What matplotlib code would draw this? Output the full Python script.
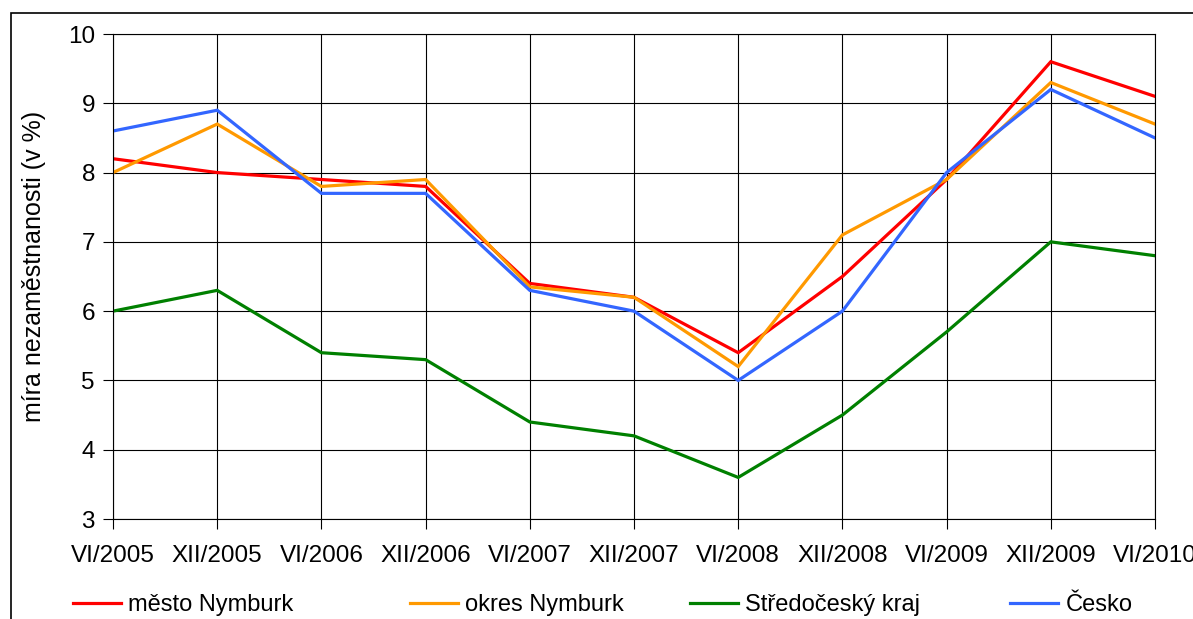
import matplotlib
matplotlib.use("Agg")
import matplotlib.pyplot as plt
from matplotlib.patches import Rectangle

plt.rcParams['font.family'] = ['Liberation Sans', 'DejaVu Sans']

# Data
periods = ['VI/2005', 'XII/2005', 'VI/2006', 'XII/2006', 'VI/2007', 'XII/2007',
           'VI/2008', 'XII/2008', 'VI/2009', 'XII/2009', 'VI/2010']
mesto_nymburk = [8.2, 8.0, 7.9, 7.8, 6.4, 6.2, 5.4, 6.5, 7.9, 9.6, 9.1]
okres_nymburk = [8.0, 8.7, 7.8, 7.9, 6.35, 6.2, 5.2, 7.1, 7.9, 9.3, 8.7]
stredocesky_kraj = [6.0, 6.3, 5.4, 5.3, 4.4, 4.2, 3.6, 4.5, 5.7, 7.0, 6.8]
cesko = [8.6, 8.9, 7.7, 7.7, 6.3, 6.0, 5.0, 6.0, 8.0, 9.2, 8.5]

series = [
    ('město Nymburk', mesto_nymburk, '#FF0000'),
    ('okres Nymburk', okres_nymburk, '#FF9900'),
    ('Středočeský kraj', stredocesky_kraj, '#008000'),
    ('Česko', cesko, '#3366FF'),
]
# left pixel of each legend entry
legend_x = [73, 410, 690, 1010]

fig = plt.figure(figsize=(11.93, 6.19), dpi=100)
ax = fig.add_axes([113 / 1193, 1 - 519 / 619, (1155 - 113) / 1193, (519 - 34) / 619])

x = list(range(len(periods)))
lines = []
for name, vals, col in series:
    ln, = ax.plot(x, vals, color=col, lw=2.3, label=name, solid_joinstyle='miter')
    lines.append(ln)

ax.set_xlim(0, len(periods) - 1)
ax.set_ylim(3, 10)
ax.set_xticks(x)
ax.set_xticklabels(periods)
ax.set_yticks(range(3, 11))
ax.grid(True, color='black', lw=0.8)
ax.set_axisbelow(True)
ax.tick_params(axis='both', labelsize=17.5, direction='out', length=7, width=0.8, color='black')
ax.tick_params(axis='x', pad=12)
ax.tick_params(axis='y', pad=6)
for s in ax.spines.values():
    s.set_linewidth(0.8)
ax.set_ylabel('míra nezaměstnanosti (v %)', fontsize=18)
ax.yaxis.set_label_coords(-67 / 1042, 0.52)

# outer frame of the chart area
fig.patches.append(Rectangle((11 / 1193, -0.1), 1.2, 1.1 - 13 / 619,
                             transform=fig.transFigure, fill=False,
                             edgecolor='black', lw=1.2))

# legend entries placed one by one like in the original
for ln, (name, _, _), px in zip(lines, series, legend_x):
    fig.legend([ln], [name], loc='center left', bbox_to_anchor=(px / 1193, 1 - 605 / 619),
               frameon=False, fontsize=17, handlelength=2.05, handletextpad=0.3,
               borderpad=0, borderaxespad=0)

fig.savefig('out.png', dpi=100)
